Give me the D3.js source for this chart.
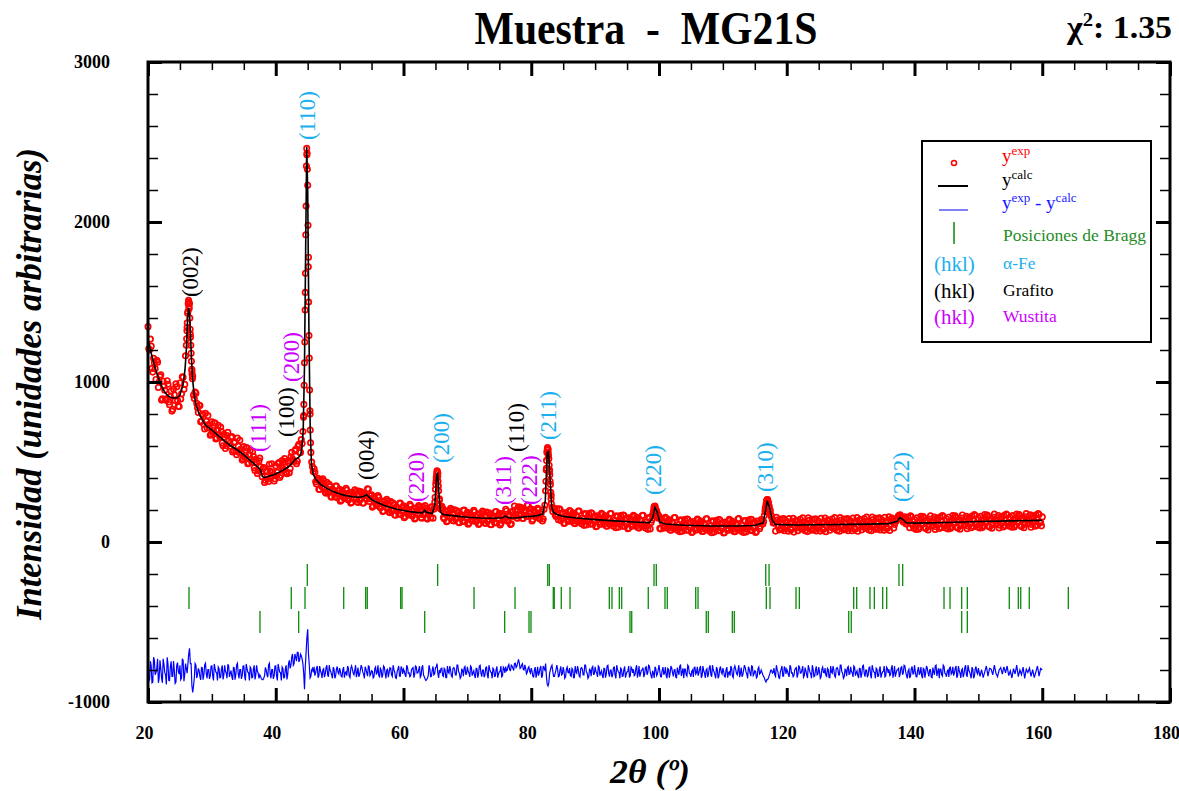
<!DOCTYPE html>
<html><head><meta charset="utf-8">
<script src="https://cdn.jsdelivr.net/npm/d3@7"></script>
<style>
body{margin:0;background:#fff}
svg text{font-family:"Liberation Serif","Times New Roman",serif}
</style>
</head><body>
<svg id="c" width="1179" height="791"></svg>
<script>
// ---------- DATA ----------
const xTicks = [20,40,60,80,100,120,140,160,180];
const yTicks = [-1000,0,1000,2000,3000];

// calculated profile [2theta, intensity]
const calc = [[20,1270],[20.5,1180],[21,1105],[21.5,1040],[22,985],[22.5,945],[23,918],[23.5,905],[24,900],[24.5,900],[25,918],[25.5,985],[25.8,1080],[26.0,1200],[26.2,1400],[26.35,1465],[26.5,1430],[26.65,1300],[26.8,1150],[27.0,1010],[27.2,930],[27.5,860],[28,800],[28.5,765],[29,730],[30,700],[31,665],[32,630],[33,600],[34,575],[35,545],[36,510],[37,475],[37.5,455],[37.7,440],[37.9,410],[38.2,403],[38.6,406],[39,412],[40,425],[41,445],[42,470],[42.5,490],[43,515],[43.6,530],[43.9,545],[44.1,590],[44.3,700],[44.5,1100],[44.7,1900],[44.85,2470],[45.0,2200],[45.2,1300],[45.4,700],[45.6,480],[45.9,420],[46.3,390],[47,360],[48,335],[49,315],[50,300],[51,290],[52,283],[53,280],[53.7,284],[54.2,295],[54.5,285],[55,265],[56,245],[57,228],[58,215],[59,205],[60,197],[61,190],[62,185],[63,182],[63.3,198],[63.6,186],[64.5,178],[64.9,230],[65.2,420],[65.35,428],[65.55,300],[65.8,185],[66.2,172],[67,168],[68,163],[70,155],[72,150],[74,148],[75.5,152],[75.9,162],[76.4,152],[77,150],[78,152],[79,158],[80,160],[81,165],[81.8,175],[82.2,260],[82.5,560],[82.7,565],[82.9,430],[83.2,220],[83.5,185],[84,172],[85,160],[87,150],[90,140],[93,132],[96,125],[98.5,120],[99,150],[99.35,215],[99.7,190],[100.1,125],[101,112],[104,105],[108,100],[112,100],[115,103],[116.3,120],[116.7,200],[116.95,258],[117.3,215],[117.7,140],[118.2,110],[121,106],[125,108],[130,110],[133,112],[136,115],[137.3,130],[137.7,153],[138.2,140],[138.7,120],[140,118],[145,122],[150,128],[155,132],[160,135]];

// observed intensities: one row per degree (20..160), values at +0, +0.25, +0.5, +0.75
const obsRows = [
[1346,1201,1224,1062],[1121,1016,1124,1002],[1045,895,975,887],[1008,875,911,818],[956,884,970,849],
[994,926,1029,985],[1230,1440,1490,1180],[1035,897,930,839],[854,751,800,734],[804,714,734,667],
[751,696,743,650],[729,655,691,602],[655,601,685,616],[654,563,622,567],[649,559,579,512],
[596,541,588,494],[574,500,536,447],[500,444,525,441],[459,372,440,394],[486,407,437,382],
[476,435,496,416],[509,450,501,427],[495,459,560,511],[569,489,600,560],[640,690,1120,2100],
[2230,1150,560,470],[458,376,388,329],[388,346,383,311],[373,318,347,280],[323,283,350,299],
[330,262,310,270],[335,270,290,243],[311,274,316,251],[318,269,304,243],[295,267,330,271],
[295,225,270,228],[290,223,239,190],[256,217,256,188],[253,200,232,167],[213,175,243,194],
[227,160,208,169],[235,171,191,144],[213,176,218,153],[220,183,212,143],[189,152,220,205],
[330,445,320,210],[223,153,173,127],[196,159,201,134],[201,150,183,120],[167,130,199,151],
[185,119,169,131],[198,134,155,109],[178,142,185,119],[187,137,171,108],[156,120,191,145],
[180,116,167,136],[205,137,155,109],[190,160,200,150],[220,172,207,147],[196,161,231,185],
[205,141,192,157],[210,149,173,131],[205,320,575,520],[360,215,213,170],[207,139,204,151],
[182,119,166,128],[197,149,183,116],[165,127,193,130],[150,104,173,136],[178,112,180,129],
[162,99,147,110],[179,132,166,100],[150,112,178,115],[135,89,159,122],[165,99,167,116],
[149,87,134,98],[167,120,154,89],[138,101,167,104],[124,79,148,122],[170,222,200,175],
[162,82,126,87],[154,106,140,75],[124,86,153,89],[109,64,133,97],[140,74,142,92],
[125,63,111,74],[144,97,131,66],[116,79,145,82],[103,58,128,92],[135,70,138,88],
[122,60,108,72],[142,95,130,65],[115,78,146,83],[104,59,130,94],[137,72,141,91],
[125,65,116,83],[140,112,165,232],[265,225,172,140],[121,68,137,101],[143,78,146,96],
[129,67,115,79],[148,101,136,71],[121,84,151,88],[110,65,135,99],[142,77,145,95],
[130,68,116,80],[150,103,138,73],[123,86,153,90],[112,67,137,101],[144,79,147,97],
[132,70,118,82],[153,106,141,76],[126,89,156,93],[115,70,140,104],[148,83,151,101],
[136,74,122,86],[157,112,149,87],[137,140,165,170],[150,125,158,112],[154,89,157,107],
[140,78,126,90],[161,114,149,84],[134,97,164,101],[123,78,148,112],[156,91,159,109],
[144,82,130,94],[165,118,153,88],[139,102,169,106],[128,83,153,117],[162,97,165,115],
[150,88,136,100],[171,124,159,94],[145,108,175,112],[133,88,158,122],[166,101,169,119],
[154,92,140,104],[174,127,162,97],[148,111,178,115],[137,92,162,126],[169,104,172,122],
[157]
];
// observed intensities in between: one row per degree (20..159), values at +0.125, +0.375, +0.625, +0.875
const obsRowsB = [
[1208,1268,1085,1148],[1084,1136,966,1034],[887,1005,948,895],[986,858,944,829],[920,988,885,847],
[894,1033,954,1164],[1340,1500,1300,1070],[918,937,867,810],[853,756,797,707],[754,790,713,675],
[684,745,644,700],[672,718,619,673],[584,666,633,599],[659,572,625,546],[599,636,558,521],
[530,590,489,545],[517,564,464,517],[428,507,470,408],[466,386,446,378],[442,489,422,395],
[416,490,403,473],[460,521,436,505],[433,532,518,503],[579,505,610,560],[615,790,1560,2420],
[1780,800,500,440],[436,363,398,328],[367,395,334,305],[312,360,284,329],[311,349,276,320],
[255,321,298,276],[325,263,306,248],[293,326,271,247],[260,314,244,296],[289,333,253,289],
[218,282,257,232],[279,213,254,194],[236,267,209,183],[194,244,170,218],[202,242,170,216],
[152,219,197,175],[226,163,207,150],[195,228,173,149],[170,228,150,194],[179,220,149,218],
[400,430,270,205],[211,146,190,132],[178,210,155,131],[143,195,123,172],[157,198,127,174],
[111,179,158,138],[188,127,171,115],[160,194,139,116],[129,182,110,160],[146,188,119,168],
[106,176,160,145],[194,128,172,114],[190,225,171,149],[163,217,148,199],[186,229,160,208],
[131,201,183,164],[202,143,191,144],[230,460,580,450],[290,190,205,160],[168,207,134,179],
[116,183,162,141],[191,128,172,115],[160,193,138,114],[126,178,106,155],[141,182,111,158],
[96,164,143,123],[173,111,156,99],[144,178,123,99],[112,164,92,142],[127,169,98,146],
[83,151,131,110],[161,99,144,87],[133,166,112,88],[101,153,82,137],[185,225,192,155],
[86,145,121,99],[148,86,130,73],[119,152,97,74],[86,139,67,117],[103,144,74,122],
[59,128,108,88],[138,77,122,66],[111,145,91,68],[80,133,62,112],[98,140,70,118],
[56,125,105,85],[136,75,120,64],[110,144,90,67],[81,134,63,113],[100,142,72,120],
[60,131,115,98],[132,128,205,258],[248,195,160,118],[123,154,99,76],[88,141,70,120],
[105,147,77,125],[62,131,111,91],[142,81,126,70],[117,151,97,74],[87,140,69,119],
[106,148,78,126],[64,133,113,93],[144,83,128,72],[119,153,99,76],[89,142,71,121],
[108,150,80,128],[67,136,116,96],[147,86,131,75],[122,156,102,79],[93,146,75,125],
[112,154,84,132],[72,143,125,109],[130,150,165,160],[140,150,115,128],[129,163,109,86],
[98,151,80,130],[117,159,89,137],[75,144,124,104],[156,95,140,84],[131,165,111,88],
[102,155,84,134],[121,163,93,141],[80,149,129,109],[161,100,145,89],[137,171,117,94],
[108,161,90,140],[127,169,99,147],[86,155,135,115],[166,105,150,94],[141,175,121,98],
[112,165,94,144],[130,172,102,150],[89,158,138,118],[170,109,154,98],[144,178,124,101]
];
// extra observed points on the peaks [2theta, intensity]
const obsPeaks = [[26.05,1270],[26.1,1320],[26.15,1370],[26.2,1430],[26.3,1490],[26.35,1510],[26.4,1470],[26.45,1460],[26.55,1400],[26.6,1330],[26.65,1280],[26.7,1230],[26.8,1130],[26.85,1080],[26.9,1050],[26.95,1020],
[44.35,780],[44.4,860],[44.45,980],[44.55,1250],[44.6,1450],[44.65,1680],[44.7,1920],[44.8,2350],[44.85,2460],[44.9,2430],[44.95,2330],[45.05,1980],[45.1,1720],[45.15,1500],[45.2,1290],[45.3,950],[45.35,820],[45.4,700],[45.45,620],
[64.9,250],[64.95,280],[65.05,360],[65.1,380],[65.15,410],[65.2,430],[65.3,440],[65.35,410],[65.4,380],[65.45,350],[65.6,260],[65.65,230],
[82.3,380],[82.35,450],[82.4,510],[82.45,560],[82.55,590],[82.6,580],[82.65,560],[82.7,540],[82.8,480],[82.85,440],[82.9,420],[82.95,380],[83.05,310],[83.1,270],[83.15,240],
[99.1,175],[99.15,190],[99.2,210],[99.3,222],[99.35,218],[99.4,210],[99.6,195],[99.65,185],[99.7,178],[99.85,160],[99.9,148],
[116.6,190],[116.65,215],[116.8,245],[116.85,255],[116.9,262],[116.95,265],[117.05,250],[117.1,240],[117.15,232],[117.35,205],[117.4,195],[117.6,160],
[137.6,158],[137.65,162],[137.8,158],[137.85,155],[137.9,150],[138.1,148]];

// difference curve (offset), one row per degree, values at +0, +0.25, +0.5, +0.75
const diffRows = [
[-756,-860,-776,-876],[-740,-816,-730,-850],[-790,-880,-764,-830],[-720,-864,-780,-840],[-744,-884,-770,-810],
[-770,-850,-740,-830],[-790,-760,-665,-760],[-940,-850,-770,-830],[-803,-862,-787,-830],[-758,-852,-797,-836],
[-774,-865,-790,-817],[-781,-849,-794,-859],[-771,-820,-764,-843],[-803,-862,-787,-830],[-758,-852,-797,-836],
[-774,-865,-790,-817],[-781,-849,-794,-859],[-771,-820,-830,-855],[-860,-835,-800,-845],[-758,-852,-797,-836],
[-774,-865,-790,-817],[-781,-849,-794,-859],[-760,-790,-720,-770],[-700,-745,-690,-735],[-710,-760,-920,-690],
[-545,-770,-840,-790],[-780,-818,-775,-835],[-805,-850,-792,-825],[-770,-842,-800,-830],[-782,-852,-795,-815],
[-788,-840,-798,-848],[-812,-775,-838,-790],[-795,-830,-770,-820],[-842,-800,-785,-826],[-780,-818,-775,-835],
[-805,-850,-792,-825],[-770,-842,-800,-830],[-782,-852,-795,-815],[-788,-840,-798,-848],[-812,-775,-838,-790],
[-795,-830,-770,-820],[-842,-800,-785,-826],[-780,-818,-775,-835],[-770,-842,-865,-850],[-770,-842,-800,-830],
[-788,-760,-850,-820],[-788,-840,-798,-848],[-812,-775,-838,-790],[-795,-830,-770,-820],[-842,-800,-785,-826],
[-780,-818,-775,-835],[-805,-850,-792,-825],[-770,-842,-800,-830],[-782,-852,-795,-815],[-788,-840,-798,-848],
[-812,-775,-838,-790],[-779,-801,-765,-803],[-776,-803,-757,-776],[-734,-790,-768,-796],[-768,-824,-789,-809],
[-788,-840,-798,-848],[-780,-818,-775,-835],[-790,-760,-890,-880],[-800,-770,-840,-820],[-770,-842,-800,-830],
[-782,-852,-795,-815],[-788,-840,-798,-848],[-812,-775,-838,-790],[-795,-830,-770,-820],[-842,-800,-785,-826],
[-780,-818,-775,-835],[-805,-850,-792,-825],[-770,-842,-800,-830],[-782,-852,-795,-815],[-788,-840,-798,-848],
[-812,-775,-838,-790],[-795,-830,-770,-820],[-842,-800,-785,-826],[-780,-818,-775,-835],[-805,-850,-792,-825],
[-770,-842,-800,-830],[-782,-852,-795,-815],[-788,-840,-798,-848],[-812,-775,-838,-790],[-795,-830,-770,-820],
[-842,-800,-785,-826],[-780,-818,-775,-835],[-805,-850,-792,-825],[-770,-842,-800,-830],[-782,-852,-795,-815],
[-788,-840,-798,-848],[-812,-775,-838,-790],[-795,-830,-770,-820],[-842,-800,-785,-826],[-780,-818,-775,-835],
[-805,-850,-792,-825],[-800,-830,-850,-875],[-860,-835,-800,-820],[-788,-840,-798,-848],[-812,-775,-838,-790],
[-795,-830,-770,-820],[-842,-800,-785,-826],[-780,-818,-775,-835],[-805,-850,-792,-825],[-770,-842,-800,-830],
[-782,-852,-795,-815],[-788,-840,-798,-848],[-812,-775,-838,-790],[-795,-830,-770,-820],[-842,-800,-785,-826],
[-780,-818,-775,-835],[-805,-850,-792,-825],[-770,-842,-800,-830],[-782,-852,-795,-815],[-788,-840,-798,-848],
[-812,-775,-838,-790],[-795,-830,-770,-820],[-842,-800,-785,-826],[-780,-818,-775,-835],[-805,-850,-792,-825],
[-770,-842,-800,-830],[-782,-852,-795,-815],[-788,-840,-798,-848],[-812,-775,-838,-790],[-795,-830,-770,-820],
[-842,-800,-785,-826],[-780,-818,-775,-835],[-805,-850,-792,-825],[-770,-842,-800,-830],[-782,-852,-795,-815],
[-788,-840,-798,-848],[-812,-775,-838,-790],[-795,-830,-770,-820],[-842,-800,-785,-826],[-780,-818,-775,-835],
[-805,-850,-792,-825],[-770,-842,-800,-830],[-782,-852,-795,-815],[-788,-840,-798,-848],[-812,-775,-838,-790],
[-800]
];
// difference in between: one row per degree (20..159), values at +0.125, +0.375, +0.625, +0.875
const diffRowsB = [
[-870,-745,-880,-720],[-830,-790,-880,-740],[-850,-730,-815,-890],[-760,-866,-746,-840],[-806,-876,-754,-826],
[-860,-730,-870,-760],[-820,-700,-760,-900],[-900,-760,-850,-790],[-842,-784,-860,-768],[-823,-797,-856,-776],
[-836,-762,-813,-865],[-791,-846,-771,-830],[-807,-852,-775,-821],[-842,-784,-860,-768],[-823,-797,-856,-776],
[-836,-762,-813,-865],[-791,-846,-771,-830],[-807,-852,-840,-860],[-850,-784,-830,-768],[-823,-797,-856,-776],
[-836,-762,-813,-865],[-791,-846,-771,-830],[-740,-770,-700,-760],[-720,-690,-750,-700],[-730,-820,-780,-600],
[-700,-850,-800,-815],[-835,-790,-848,-775],[-820,-800,-845,-785],[-830,-770,-812,-852],[-795,-838,-778,-825],
[-808,-843,-782,-818],[-835,-790,-848,-775],[-820,-800,-845,-785],[-830,-770,-812,-852],[-795,-838,-778,-825],
[-808,-843,-782,-818],[-835,-790,-848,-775],[-820,-800,-845,-785],[-830,-770,-812,-852],[-795,-838,-778,-825],
[-808,-843,-782,-818],[-835,-790,-848,-775],[-820,-800,-845,-785],[-830,-855,-860,-835],[-795,-838,-778,-825],
[-780,-820,-800,-790],[-835,-790,-848,-775],[-820,-800,-845,-785],[-830,-770,-812,-852],[-795,-838,-778,-825],
[-808,-843,-782,-818],[-835,-790,-848,-775],[-820,-800,-845,-785],[-830,-770,-812,-852],[-795,-838,-778,-825],
[-808,-843,-782,-818],[-805,-775,-800,-770],[-790,-760,-785,-755],[-755,-785,-760,-800],[-790,-815,-780,-820],
[-808,-843,-782,-818],[-835,-790,-848,-775],[-800,-840,-900,-820],[-780,-810,-840,-800],[-795,-838,-778,-825],
[-808,-843,-782,-818],[-835,-790,-848,-775],[-820,-800,-845,-785],[-830,-770,-812,-852],[-795,-838,-778,-825],
[-808,-843,-782,-818],[-835,-790,-848,-775],[-820,-800,-845,-785],[-830,-770,-812,-852],[-795,-838,-778,-825],
[-808,-843,-782,-818],[-835,-790,-848,-775],[-820,-800,-845,-785],[-830,-770,-812,-852],[-820,-780,-835,-800],
[-808,-843,-782,-818],[-835,-790,-848,-775],[-820,-800,-845,-785],[-830,-770,-812,-852],[-795,-838,-778,-825],
[-808,-843,-782,-818],[-835,-790,-848,-775],[-820,-800,-845,-785],[-830,-770,-812,-852],[-795,-838,-778,-825],
[-808,-843,-782,-818],[-835,-790,-848,-775],[-820,-800,-845,-785],[-830,-770,-812,-852],[-795,-838,-778,-825],
[-808,-843,-782,-818],[-815,-840,-865,-860],[-850,-820,-800,-815],[-830,-770,-812,-852],[-795,-838,-778,-825],
[-808,-843,-782,-818],[-835,-790,-848,-775],[-820,-800,-845,-785],[-830,-770,-812,-852],[-795,-838,-778,-825],
[-808,-843,-782,-818],[-835,-790,-848,-775],[-820,-800,-845,-785],[-830,-770,-812,-852],[-795,-838,-778,-825],
[-808,-843,-782,-818],[-835,-790,-848,-775],[-820,-800,-845,-785],[-830,-770,-812,-852],[-795,-838,-778,-825],
[-808,-843,-782,-818],[-835,-790,-848,-775],[-820,-800,-845,-785],[-830,-770,-812,-852],[-795,-838,-778,-825],
[-808,-843,-782,-818],[-835,-790,-848,-775],[-820,-800,-845,-785],[-830,-770,-812,-852],[-795,-838,-778,-825],
[-808,-843,-782,-818],[-835,-790,-848,-775],[-820,-800,-845,-785],[-830,-770,-812,-852],[-795,-838,-778,-825]
];

// Bragg positions (2theta)
const braggFe = [44.94,65.35,82.58,82.83,99.22,99.58,116.71,117.23,137.57,138.15];
const braggGraf = [26.42,42.43,44.58,50.64,54.08,54.33,59.56,59.77,71.04,77.46,83.45,83.6,84.70,86.07,92.22,92.64,93.79,94.16,98.32,100.94,101.3,105.75,106.11,116.8,117.38,121.45,121.97,130.48,130.95,133.03,133.71,135.02,135.65,144.62,145.56,147.39,148.27,154.84,156.25,156.63,157.97,164.08];
const braggWus = [37.53,43.59,63.32,75.84,79.65,79.96,95.46,95.73,107.4,107.72,111.48,111.79,129.7,130.1,147.39,148.27];

// hkl labels [text, phase, 2theta, intensity at label foot]
const hklLabels = [
 ["(002)","graf",26.58,1531],["(110)","fe",44.9,2512],["(111)","wus",37.27,562],
 ["(100)","graf",41.7,656],["(200)","wus",42.5,1000],["(004)","graf",54.24,387],
 ["(220)","wus",62.07,250],["(200)","fe",65.98,494],["(311)","wus",75.63,231],
 ["(110)","graf",77.72,562],["(222)","wus",79.8,231],["(211)","fe",82.67,637],
 ["(220)","fe",99.11,294],["(310)","fe",116.7,312],["(222)","fe",138.0,250]];

// ---------- DRAW ----------
const col = {fe:"#1AB0EE", graf:"#000000", wus:"#CC00FF", green:"#0a8a0a", red:"#ff0000", blue:"#0000ff"};
const svg = d3.select("#c");
const x = d3.scaleLinear().domain([20,180]).range([148,1170]);
const y = d3.scaleLinear().domain([-1000,3000]).range([702,62]);

const obs = [];
obsRows.forEach((row,i)=>row.forEach((v,j)=>obs.push([20+i+j*0.25, v])));
obsRowsB.forEach((row,i)=>row.forEach((v,j)=>obs.push([20.125+i+j*0.25, v])));
obsPeaks.forEach(p=>obs.push(p));
const diff = [];
diffRows.forEach((row,i)=>row.forEach((v,j)=>diff.push([20+i+j*0.25, v])));
diffRowsB.forEach((row,i)=>row.forEach((v,j)=>diff.push([20.125+i+j*0.25, v])));
diff.sort((a,b)=>a[0]-b[0]);

// observed points
svg.append("g").selectAll("circle").data(obs).join("circle")
  .attr("cx",d=>x(d[0])).attr("cy",d=>y(d[1])).attr("r",2.7)
  .attr("fill","none").attr("stroke",col.red).attr("stroke-width",1.7);

// calc line
svg.append("path").datum(calc).attr("fill","none").attr("stroke","#000").attr("stroke-width",1.6)
  .attr("d",d3.line().x(d=>x(d[0])).y(d=>y(d[1])));

// difference
svg.append("path").datum(diff).attr("fill","none").attr("stroke",col.blue).attr("stroke-width",1.2)
  .attr("d",d3.line().x(d=>x(d[0])).y(d=>y(d[1])));

// Bragg ticks
const rows = [[braggFe,-137,-275],[braggGraf,-281,-419],[braggWus,-431,-569]];
rows.forEach(([arr,top,bot])=>{
  svg.append("g").selectAll("line").data(arr).join("line")
    .attr("x1",d=>x(d)).attr("x2",d=>x(d)).attr("y1",y(top)).attr("y2",y(bot))
    .attr("stroke",col.green).attr("stroke-width",1.3);
});

// axes
function axisG(axis, tx, ty, sw){
  const g = svg.append("g").attr("transform",`translate(${tx},${ty})`).call(axis);
  g.select(".domain").remove();
  g.selectAll(".tick line").attr("stroke","#000").attr("stroke-width",sw);
  g.selectAll("text").attr("font-family","Liberation Serif").attr("font-weight","bold").attr("font-size",18).attr("fill","#000");
  return g;
}
const xMinor = d3.range(20,181,5).filter(v=>v%20!==0);
const yMinor = d3.range(-1000,3001,200).filter(v=>v%1000!==0);
const gxb = axisG(d3.axisBottom(x).tickValues(xTicks).tickSizeInner(-14).tickSizeOuter(0).tickPadding(24).tickFormat(d=>String(d)),0,702,3);
gxb.selectAll("text").attr("dx",-4);
axisG(d3.axisBottom(x).tickValues(xMinor).tickSizeInner(-8).tickSizeOuter(0).tickFormat(""),0,702,1.5);
axisG(d3.axisTop(x).tickValues(xTicks).tickSizeInner(-14).tickSizeOuter(0).tickFormat(""),0,62,3);
axisG(d3.axisTop(x).tickValues(xMinor).tickSizeInner(-8).tickSizeOuter(0).tickFormat(""),0,62,1.5);
axisG(d3.axisLeft(y).tickValues(yTicks).tickSizeInner(-14).tickSizeOuter(0).tickPadding(38).tickFormat(d=>String(d)),148,0,3);
axisG(d3.axisLeft(y).tickValues(yMinor).tickSizeInner(-10).tickSizeOuter(0).tickFormat(""),148,0,1.5);
axisG(d3.axisRight(y).tickValues(yTicks).tickSizeInner(-14).tickSizeOuter(0).tickFormat(""),1170,0,3);
axisG(d3.axisRight(y).tickValues(yMinor).tickSizeInner(-10).tickSizeOuter(0).tickFormat(""),1170,0,1.5);

// frame
svg.append("rect").attr("x",x(20)).attr("y",y(3000)).attr("width",x(180)-x(20)).attr("height",y(-1000)-y(3000))
  .attr("fill","none").attr("stroke","#000").attr("stroke-width",3);

// hkl labels
svg.append("g").selectAll("text").data(hklLabels).join("text")
  .attr("transform",d=>`translate(${x(d[2])},${y(d[3])}) rotate(-90)`)
  .attr("text-anchor","start").attr("dominant-baseline","central")
  .attr("font-size",23).attr("fill",d=>col[d[1]]).text(d=>d[0]);

// titles
svg.append("text").attr("x",646).attr("y",44).attr("text-anchor","middle")
  .attr("font-size",46).attr("font-weight","bold").attr("xml:space","preserve").style("white-space","pre")
  .attr("textLength",343).attr("lengthAdjust","spacingAndGlyphs").text("Muestra  -  MG21S");
const chi = svg.append("text").attr("x",1067).attr("y",38).attr("font-size",31).attr("font-weight","bold")
  .attr("textLength",105).attr("lengthAdjust","spacingAndGlyphs");
chi.append("tspan").text("χ");
chi.append("tspan").attr("font-size",19).attr("dy",-12).text("2");
chi.append("tspan").attr("dy",12).text(": 1.35");

svg.append("text").attr("transform","translate(41,384) rotate(-90)").attr("text-anchor","middle")
  .attr("font-size",36).attr("font-weight","bold").attr("font-style","italic")
  .attr("textLength",472).attr("lengthAdjust","spacingAndGlyphs").text("Intensidad (unidades arbitrarias)");
svg.append("text").attr("x",650).attr("y",783).attr("text-anchor","middle")
  .attr("font-size",34).attr("font-weight","bold").attr("font-style","italic")
  .attr("textLength",80).attr("lengthAdjust","spacingAndGlyphs").text("2θ (º)");

// legend
const lg = svg.append("g");
lg.append("rect").attr("x",922).attr("y",141).attr("width",229).attr("height",201).attr("fill","#fff").attr("stroke","#000").attr("stroke-width",2);
lg.append("circle").attr("cx",954).attr("cy",163).attr("r",2.5).attr("fill","none").attr("stroke",col.red).attr("stroke-width",1.5);
lg.append("line").attr("x1",938).attr("x2",968).attr("y1",186).attr("y2",186).attr("stroke","#000").attr("stroke-width",2);
lg.append("line").attr("x1",939).attr("x2",968).attr("y1",210).attr("y2",210).attr("stroke",col.blue).attr("stroke-width",1);
lg.append("line").attr("x1",954).attr("x2",954).attr("y1",222).attr("y2",244).attr("stroke",col.green).attr("stroke-width",1.5);
function supText(tx,ty,parts,color){
  const t = lg.append("text").attr("x",tx).attr("y",ty).attr("fill",color).attr("font-size",19);
  let up=false;
  parts.forEach(([s,sup])=>{
    const ts = t.append("tspan").text(s);
    if(sup && !up){ts.attr("font-size",13).attr("dy",-7);up=true;}
    else if(!sup && up){ts.attr("dy",7);up=false;}
    else if(sup){ts.attr("font-size",13);}
  });
}
supText(1002,162,[["y",0],["exp",1]],col.red);
supText(1002,186,[["y",0],["calc",1]],"#000");
supText(1002,209,[["y",0],["exp",1],[" - y",0],["calc",1]],"#1a1aff");
lg.append("text").attr("x",1003).attr("y",241).attr("font-size",17.5).attr("fill","#1f8c1f").text("Posiciones de Bragg");
[["fe","α-Fe",269],["graf","Grafito",296],["wus","Wustita",322]].forEach(([k,name,by])=>{
  lg.append("text").attr("x",934).attr("y",by+2).attr("font-size",21).attr("fill",col[k]).text("(hkl)");
  lg.append("text").attr("x",1003).attr("y",by).attr("font-size",17.5).attr("fill",col[k]).text(name);
});
</script>
</body></html>
